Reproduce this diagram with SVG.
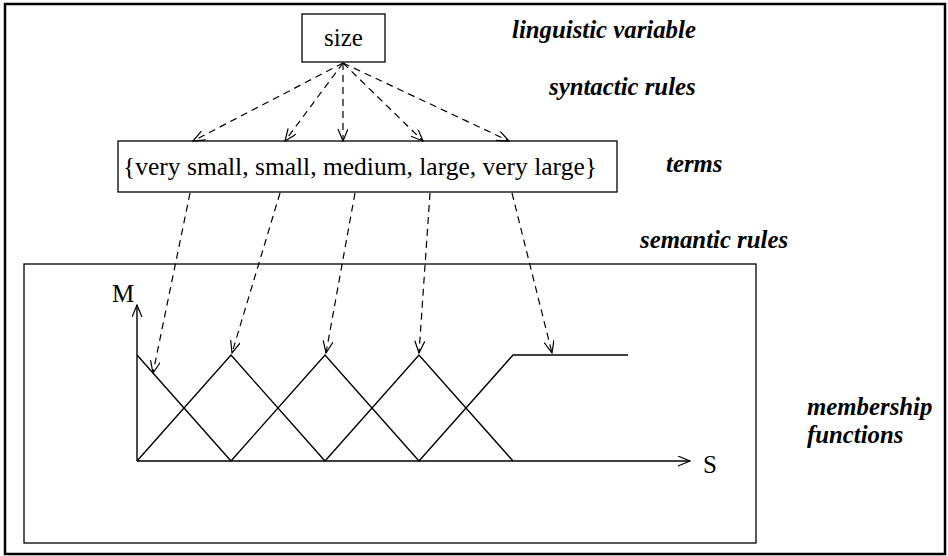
<svg xmlns="http://www.w3.org/2000/svg" width="948" height="556" viewBox="0 0 948 556">
<defs>
<marker id="ah" markerWidth="14" markerHeight="12" refX="13" refY="5" orient="auto" markerUnits="userSpaceOnUse">
<path d="M1,0 L13,5 L1,10" fill="none" stroke="#000" stroke-width="1.2"/>
</marker>
<style>
.box{fill:#fff;stroke:#000;stroke-width:1.3}
.t{font-family:"Liberation Serif","Times New Roman",serif;font-size:25px;fill:#000}
.tt{font-size:25.5px}
.lbl{font-family:"Liberation Serif","Times New Roman",serif;font-size:24.8px;font-weight:bold;font-style:italic;fill:#000}
.dash{fill:none;stroke:#000;stroke-width:1.2;stroke-dasharray:7,5;marker-end:url(#ah)}
.ln{fill:none;stroke:#000;stroke-width:1.4}
</style>
</defs>
<rect x="0" y="0" width="948" height="556" fill="#fff"/>
<rect x="5" y="4" width="940" height="550" fill="none" stroke="#000" stroke-width="2.5"/>

<g id="size">
<rect class="box" x="302" y="14" width="83" height="48"/>
<text class="t" x="343.5" y="46" text-anchor="middle">size</text>
</g>

<g id="terms">
<rect class="box" x="118" y="141" width="499" height="51"/>
<text class="t tt" x="360" y="175" text-anchor="middle">{very small, small, medium, large, very large}</text>
</g>

<g id="membership">
<rect class="box" x="24" y="264" width="732" height="279"/>
<line class="ln" x1="137" y1="461" x2="137" y2="305" marker-end="url(#ah)"/>
<line class="ln" x1="137" y1="461" x2="690" y2="461" marker-end="url(#ah)"/>
<text class="t" x="112" y="302">M</text>
<text class="t" x="703" y="473">S</text>
<polyline class="ln" points="137,355 231,461"/>
<polyline class="ln" points="137,461 231,355 325,461"/>
<polyline class="ln" points="231,461 325,355 419,461"/>
<polyline class="ln" points="325,461 419,355 513,461"/>
<polyline class="ln" points="419,461 513,355 628,355"/>
</g>

<g id="labels">
<text class="lbl" x="512" y="38">linguistic variable</text>
<text class="lbl" x="549" y="95">syntactic rules</text>
<text class="lbl" x="666" y="172">terms</text>
<text class="lbl" x="640" y="248">semantic rules</text>
<text class="lbl" x="807" y="415">membership</text>
<text class="lbl" x="807" y="443">functions</text>
</g>

<g id="connectors">
<line class="dash" x1="343" y1="63" x2="193" y2="141"/>
<line class="dash" x1="343" y1="63" x2="285" y2="141"/>
<line class="dash" x1="343" y1="63" x2="343" y2="141"/>
<line class="dash" x1="343" y1="63" x2="423" y2="141"/>
<line class="dash" x1="343" y1="63" x2="509" y2="141"/>
<line class="dash" x1="190" y1="193" x2="153" y2="373"/>
<line class="dash" x1="280" y1="193" x2="232" y2="353"/>
<line class="dash" x1="355" y1="193" x2="326" y2="353"/>
<line class="dash" x1="430" y1="193" x2="419" y2="353"/>
<line class="dash" x1="512" y1="193" x2="552" y2="353"/>
</g>
</svg>
